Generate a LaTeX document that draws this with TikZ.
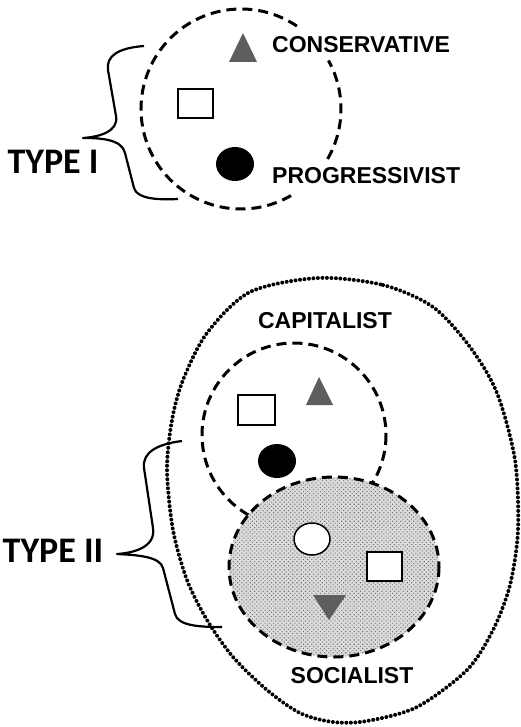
\documentclass[tikz,border=0pt]{standalone}
\usepackage{fontspec}
\setmainfont{Liberation Sans}
\newfontfamily\typefont{Carlito}
\usetikzlibrary{patterns.meta,shapes.geometric,decorations.markings}
\definecolor{trigray}{HTML}{5E5E5E}
\begin{document}
\begin{tikzpicture}[x=1pt,y=-1pt,
  dashline/.style={line width=3pt,dash pattern=on 10pt off 6pt},
  dotline/.style={decorate,decoration={markings,
      mark=between positions 0 and 1 step 4.5pt with {\fill[black] (0,0) circle[radius=2pt];}}},
  bracepath/.style={line width=2.2pt,line join=round},
  box/.style={draw,line width=1.5pt,fill=white,rectangle,inner sep=0pt,minimum width=35pt,minimum height=29pt},
  blob/.style={ellipse,inner sep=0pt,minimum width=38pt,minimum height=34pt},
  label/.style={inner sep=0pt,font=\fontsize{23}{25}\selectfont\bfseries},
  typelabel/.style={inner sep=0pt,font=\typefont\fontsize{36}{38}\selectfont\bfseries},
  tri/.style={fill=trigray}]
\useasboundingbox (0,0) rectangle (520,727);

% ---------- Type I ----------
\draw[dashline] (241,109) ++(-56:100) arc[start angle=-56,end angle=-300,radius=100];
\draw[dashline] (241,109) ++(30:100) arc[start angle=30,end angle=-29,radius=100];

\coordinate (t1a) at (243,33);
\coordinate (t1b) at (229,62);
\coordinate (t1c) at (257,62);
\fill[tri] (t1a) -- (t1b) -- (t1c) -- cycle;
\node[box] (r1) at (195.5,103.5) {};
\node[blob,fill=black] (c1) at (235,164) {};

\node[label,anchor=west] (cons) at (272,45) {CONSERVATIVE};
\node[label,anchor=west] (prog) at (272,176) {PROGRESSIVIST};

\coordinate (b1top) at (144,46);
\coordinate (b1tip) at (83,138);
\coordinate (b1bot) at (178,199);
\draw[bracepath] (b1top) .. controls (118,48) and (106,56) .. (108,70)
  -- (116,116) .. controls (119,132) and (98,137) .. (b1tip)
  .. controls (100,138) and (122,139) .. (125,153)
  -- (134,188) .. controls (137,199) and (158,200) .. (b1bot);
\node[typelabel] (type1) at (53,162) {TYPE I};

% ---------- Type II ----------
\path[dotline] plot[smooth cycle] coordinates {
  (318,278) (383,285) (433,307) (470,347) (497,393) (515,460) (518,530)
  (510,585) (493,630) (467,670) (417,707) (367,721) (333,722) (300,713)
  (267,690) (233,657) (207,620) (187,580) (173,530) (167,470) (172,420)
  (183,380) (207,333) (250,292)};

\draw[dashline] (294,435) circle[radius=92];

\fill[black!14] (334,567) ellipse[x radius=105,y radius=90];
\fill[pattern={Dots[distance=3pt,angle=45,radius=0.75pt]},pattern color=black!55]
  (334,567) ellipse[x radius=105,y radius=90];
\draw[dashline] (334,567) ellipse[x radius=105,y radius=90];

\coordinate (t2a) at (319,377);
\coordinate (t2b) at (306,405);
\coordinate (t2c) at (333,405);
\fill[tri] (t2a) -- (t2b) -- (t2c) -- cycle;
\node[box,minimum width=37pt,minimum height=30pt] (r2) at (256.5,410) {};
\node[blob,fill=black] (c2) at (277,461) {};

\node[blob,draw,line width=1.5pt,fill=white,minimum width=36pt,minimum height=32pt] (c3) at (312,539) {};
\node[box] (r3) at (384.5,566.5) {};
\coordinate (t3a) at (329,620);
\coordinate (t3b) at (313,595);
\coordinate (t3c) at (346,595);
\fill[tri] (t3a) -- (t3b) -- (t3c) -- cycle;

\node[label] (capi) at (325,321) {CAPITALIST};
\node[label] (soci) at (352,676) {SOCIALIST};

\coordinate (b2top) at (182,441);
\coordinate (b2tip) at (117,554);
\coordinate (b2bot) at (222,627);
\draw[bracepath] (b2top) .. controls (158,444) and (142,452) .. (144,468)
  -- (153,528) .. controls (156,548) and (132,553) .. (b2tip)
  .. controls (135,555) and (160,556) .. (163,568)
  -- (175,614) .. controls (178,626) and (200,627) .. (b2bot);
\node[typelabel] (type2) at (53,551) {TYPE II};
\end{tikzpicture}
\end{document}
